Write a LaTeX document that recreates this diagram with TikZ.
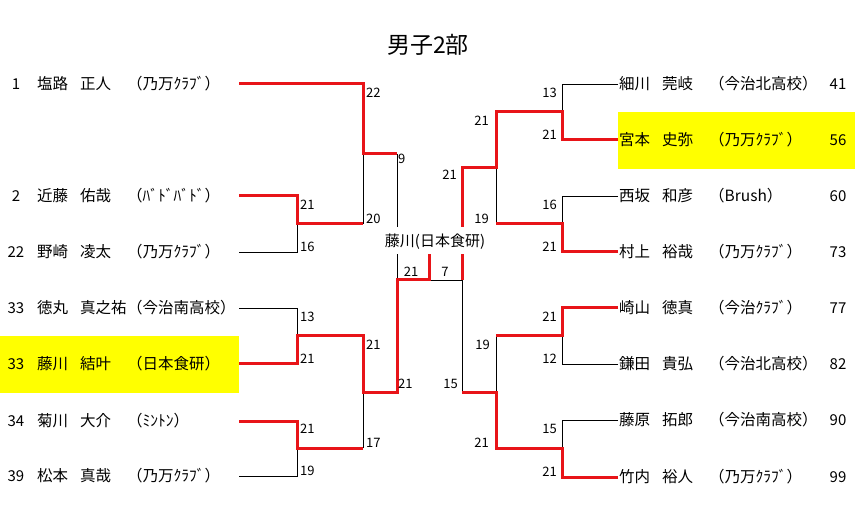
\documentclass[tikz,border=0pt]{standalone}
\usepackage{fontspec}
\setmainfont{Noto Sans CJK JP}
\definecolor{wred}{RGB}{232,20,24}
\definecolor{hyel}{RGB}{255,255,0}
\begin{document}
\begin{tikzpicture}[x=1pt,y=-1pt,
  win/.style={draw=wred,line width=3pt},
  lose/.style={draw=black,line width=0.9pt},
  nm/.style={inner sep=0pt,anchor=west,font=\fontsize{15.5}{18}\selectfont,text height=12.4pt,text depth=1.2pt},
  num/.style={inner sep=0pt,font=\fontsize{15}{18}\selectfont,text height=12pt,text depth=1.2pt},
  scL/.style={inner sep=0pt,anchor=west,font=\fontsize{13}{15}\selectfont,text height=10.4pt,text depth=1pt},
  scR/.style={scL,anchor=east},
  scC/.style={scL,anchor=center},
  hl/.style={fill=hyel,draw=none}]
\useasboundingbox (0,0) rectangle (855,505);

% highlights
\fill[hyel] (0,336) rectangle (239,393);
\fill[hyel] (618,112) rectangle (855,169);

% title
\node[font=\fontsize{23}{26}\selectfont,inner sep=0pt] (title) at (428,45) {男子2部};

% left players
\foreach \yy/\nn/\ss/\gg/\cc [count=\i] in {
  84/1/塩路/正人/（乃万ｸﾗﾌﾞ）,
  196/2/近藤/佑哉/（ﾊﾞﾄﾞﾊﾞﾄﾞ）,
  252/22/野崎/凌太/（乃万ｸﾗﾌﾞ）,
  308/33/徳丸/真之祐/（今治南高校）,
  364/33/藤川/結叶/（日本食研）,
  421/34/菊川/大介/（ﾐﾝﾄﾝ）,
  476/39/松本/真哉/（乃万ｸﾗﾌﾞ）}{
  \node[num] (Ln\i) at (16,\yy) {\nn};
  \node[nm] (Ls\i) at (37,\yy) {\ss};
  \node[nm] (Lg\i) at (80,\yy) {\gg};
  \node[nm] (Lc\i) at (127,\yy) {\cc};
  \coordinate (L\i) at (239,\yy);
}

% right players
\foreach \yy/\nn/\ss/\gg/\cc [count=\i] in {
  84/41/細川/莞岐/（今治北高校）,
  140/56/宮本/史弥/（乃万ｸﾗﾌﾞ）,
  196/60/西坂/和彦/（Brush）,
  252/73/村上/裕哉/（乃万ｸﾗﾌﾞ）,
  308/77/崎山/徳真/（今治ｸﾗﾌﾞ）,
  364/82/鎌田/貴弘/（今治北高校）,
  420/90/藤原/拓郎/（今治南高校）,
  477/99/竹内/裕人/（乃万ｸﾗﾌﾞ）}{
  \node[nm] (Rs\i) at (619,\yy) {\ss};
  \node[nm] (Rg\i) at (662,\yy) {\gg};
  \node[nm] (Rc\i) at (709,\yy) {\cc};
  \node[num] (Rn\i) at (838,\yy) {\nn};
  \coordinate (R\i) at (618,\yy);
}

% bracket coordinates
\coordinate (LJ1) at (297,224); \coordinate (LJ2) at (297,336); \coordinate (LJ3) at (297,448);
\coordinate (LA1) at (363,224); \coordinate (LA2) at (363,336); \coordinate (LA3) at (363,448);
\coordinate (LK1) at (363,154); \coordinate (LK2) at (363,392);
\coordinate (LS1) at (397,154); \coordinate (LS2) at (397,392);
\coordinate (LM) at (397,280);
\coordinate (CL) at (429,280); \coordinate (CR) at (462,280);
\coordinate (CLt) at (429,245);
\coordinate (RJ1) at (562,112); \coordinate (RJ2) at (562,224); \coordinate (RJ3) at (562,336); \coordinate (RJ4) at (562,448);
\coordinate (RA1) at (496,112); \coordinate (RA2) at (496,224); \coordinate (RA3) at (496,336); \coordinate (RA4) at (496,448);
\coordinate (RK1) at (496,168); \coordinate (RK2) at (496,392);
\coordinate (RS1) at (462,168); \coordinate (RS2) at (462,392);

% losing lines
\draw[lose] (L3) -| (LJ1);
\draw[lose] (LA1) -- (LK1);
\draw[lose] (LS1) -- (LM);
\draw[lose] (L4) -| (LJ2);
\draw[lose] (L7) -| (LJ3);
\draw[lose] (LA3) -- (LK2);
\draw[lose] (CL) -- (CR);
\draw[lose] (R1) -| (RJ1);
\draw[lose] (R3) -| (RJ2);
\draw[lose] (RA2) -- (RK1);
\draw[lose] (R6) -| (RJ3);
\draw[lose] (RA3) -- (RK2);
\draw[lose] (R7) -| (RJ4);
\draw[lose] (RS2) -- (CR);

% winning lines
\draw[win] (L1) -| (LK1) -- (LS1);
\draw[win] (L2) -| (LJ1) -- (LA1);
\draw[win] (L5) -| (LJ2) -- (LA2) -- (LK2) -- (LS2) -- (LM) -- (CL) -- (CLt);
\draw[win] (L6) -| (LJ3) -- (LA3);
\draw[win] (R2) -| (RJ1) -- (RA1) -- (RK1) -- (RS1) -- (CR);
\draw[win] (R4) -| (RJ2) -- (RA2);
\draw[win] (R5) -| (RJ3) -- (RA3);
\draw[win] (R8) -| (RJ4) -- (RA4) -- (RK2) -- (RS2);

% champion label
\node[fill=white,inner xsep=1pt,inner ysep=0pt,minimum height=27pt,font=\fontsize{15}{18}\selectfont,text height=12pt,text depth=1.2pt] (F) at (435,241) {藤川(日本食研)};

% scores left
\foreach \xx/\yy/\tt [count=\i] in {366/93/22, 366/219/20, 398/159/9, 300/205/21, 300/247/16,
  300/317/13, 300/359/21, 300/429/21, 300/471/19, 366/345/21, 366/443/17, 398/384/21}{
  \node[scL] (sl\i) at (\xx,\yy) {\tt};
}
% final scores
\node[scC] (fL) at (411,272) {21};
\node[scC] (fR) at (445,272) {7};
% scores right
\foreach \xx/\yy/\tt [count=\i] in {457/175/21, 458/384/15, 489/121/21, 489/219/19, 490/345/19, 489/443/21,
  557/93/13, 557/135/21, 557/205/16, 557/247/21, 557/317/21, 557/359/12, 557/429/15, 557/472/21}{
  \node[scR] (sr\i) at (\xx,\yy) {\tt};
}
\end{tikzpicture}
\end{document}
